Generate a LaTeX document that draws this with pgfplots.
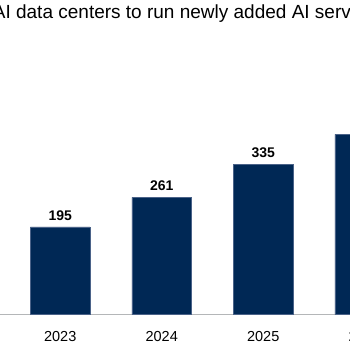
\documentclass[border=0pt]{standalone}
\usepackage{pgfplots}
\pgfplotsset{compat=1.18}
\usepackage{fontspec}
\setmainfont{Liberation Sans}
\definecolor{barblue}{HTML}{002855}
\definecolor{baredge}{HTML}{4A6288}
\definecolor{axisgray}{HTML}{B4B6B8}
\begin{document}
\begin{tikzpicture}
\useasboundingbox (0,0) rectangle (350pt,350pt);
\clip (0,0) rectangle (350pt,350pt);
\fill[white] (0,0) rectangle (350pt,350pt);
\node[anchor=base west, inner sep=0pt, font=\fontsize{19.0pt}{21pt}\selectfont] at (-7.3pt,331.7pt) {AI data centers to run newly added AI servers};
\begin{axis}[
  at={(-10.85pt,35.5pt)}, anchor=south west,
  scale only axis, width=436.45pt, height=224.5pt,
  xmin=-0.7, xmax=3.6, ymin=0, ymax=500,
  ybar, bar width=59.5pt,
  axis y line=none,
  axis x line*=bottom,
  x axis line style={draw=axisgray, line width=1.5pt, -},
  xtick=data, xticklabels={2023,2024,2025,2026},
  major tick length=0pt,
  xticklabel style={font=\fontsize{14.5pt}{16pt}\selectfont, anchor=base, yshift=-27.2pt},
  nodes near coords,
  every node near coord/.append style={font=\bfseries\fontsize{14pt}{16pt}\selectfont, anchor=base, yshift=6.5pt, text=black},
  /pgf/number format/assume math mode=true,
  clip=false,
]
\addplot[fill=barblue, draw=baredge, line width=0.4pt] coordinates {(0,195) (1,261) (2,335) (3,401)};
\end{axis}
\end{tikzpicture}
\end{document}
